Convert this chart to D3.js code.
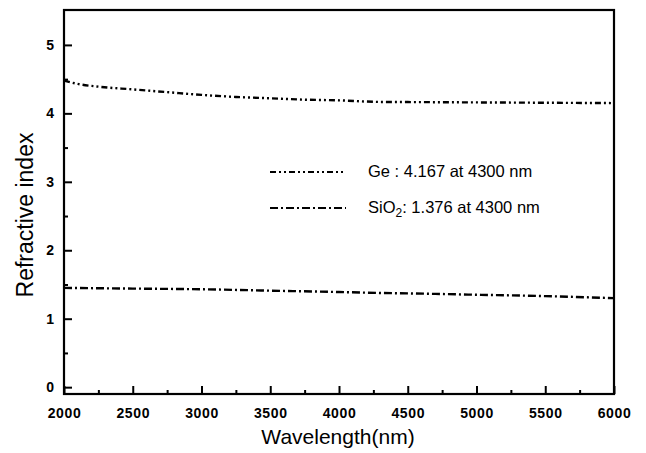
<!DOCTYPE html>
<html><head><meta charset="utf-8">
<script src="https://cdn.jsdelivr.net/npm/d3@7"></script>
<style>body{margin:0;background:#fff}</style>
</head><body>
<svg id="c" width="646" height="453"></svg>
<script>
const geWavelength = [2000, 2100, 2250, 2500, 2750, 3000, 3250, 3500, 3750, 4000, 4300, 4500, 5000, 5500, 6000];
const geIndex      = [4.48, 4.43, 4.39, 4.35, 4.31, 4.27, 4.24, 4.22, 4.20, 4.19, 4.167, 4.165, 4.16, 4.155, 4.15];
const sioWavelength = [2000, 2500, 3000, 3500, 4000, 4300, 4500, 5000, 5500, 6000];
const sioIndex      = [1.45, 1.44, 1.43, 1.41, 1.39, 1.376, 1.37, 1.35, 1.33, 1.30];
const xTicks = [2000, 2500, 3000, 3500, 4000, 4500, 5000, 5500, 6000];
const yTicks = [0, 1, 2, 3, 4, 5];
const legendLabels = ["Ge : 4.167 at 4300 nm", "SiO", "2", ": 1.376 at 4300 nm"];

const svg = d3.select("#c");
const L = 64, R = 614, T = 10, B = 394;
const x = d3.scaleLinear().domain([2000, 6000]).range([L, R]);
const y = d3.scaleLinear().domain([-0.1, 5.51]).range([B, T]);

const xMinor = d3.range(2250, 6000, 500);
const yMinor = d3.range(0.5, 5.5, 1);

const gx = svg.append("g").attr("transform", `translate(0,${B})`)
  .call(d3.axisBottom(x).tickValues(xTicks).tickSizeInner(-8).tickSizeOuter(0).tickPadding(14).tickFormat(d3.format("d")));
const gxm = svg.append("g").attr("transform", `translate(0,${B})`)
  .call(d3.axisBottom(x).tickValues(xMinor).tickSizeInner(-4).tickSizeOuter(0).tickFormat(""));
const gy = svg.append("g").attr("transform", `translate(${L},0)`)
  .call(d3.axisLeft(y).tickValues(yTicks).tickSizeInner(-8).tickSizeOuter(0).tickPadding(10).tickFormat(d3.format("d")));
const gym = svg.append("g").attr("transform", `translate(${L},0)`)
  .call(d3.axisLeft(y).tickValues(yMinor).tickSizeInner(-4).tickSizeOuter(0).tickFormat(""));

[gx, gxm, gy, gym].forEach(g => {
  g.select(".domain").remove();
  g.selectAll(".tick line").attr("stroke", "#000").attr("stroke-width", 2);
  g.selectAll("text").attr("font-family", "Liberation Sans, Arial, sans-serif")
    .attr("font-weight", "bold").attr("font-size", 14).attr("fill", "#000");
});
gx.selectAll("text").attr("letter-spacing", 0.6);

svg.append("rect").attr("x", L).attr("y", T).attr("width", R - L).attr("height", B - T)
  .attr("fill", "none").attr("stroke", "#000").attr("stroke-width", 2.2);

const line = d3.line().x(d => x(d[0])).y(d => y(d[1])).curve(d3.curveMonotoneX);
const geDash = "6,3,2,3,2,3";
const sioDash = "8,3,2,3";

svg.append("path").datum(geWavelength.map((w, i) => [w, geIndex[i]]))
  .attr("d", line).attr("fill", "none").attr("stroke", "#000").attr("stroke-width", 2.4)
  .attr("stroke-dasharray", geDash);
svg.append("path").datum(sioWavelength.map((w, i) => [w, sioIndex[i]]))
  .attr("d", line).attr("fill", "none").attr("stroke", "#000").attr("stroke-width", 2.4)
  .attr("stroke-dasharray", sioDash);

const font = "Liberation Sans, Arial, sans-serif";
svg.append("line").attr("x1", 270).attr("x2", 346).attr("y1", 172).attr("y2", 172)
  .attr("stroke", "#000").attr("stroke-width", 2.2).attr("stroke-dasharray", geDash);
svg.append("line").attr("x1", 270).attr("x2", 346).attr("y1", 208).attr("y2", 208)
  .attr("stroke", "#000").attr("stroke-width", 2.2).attr("stroke-dasharray", sioDash);
svg.append("text").attr("x", 368).attr("y", 177).attr("font-family", font).attr("font-size", 16.5)
  .text(legendLabels[0]);
const t2 = svg.append("text").attr("x", 368).attr("y", 213).attr("font-family", font).attr("font-size", 16.5);
t2.append("tspan").text(legendLabels[1]);
t2.append("tspan").attr("font-size", 12).attr("dy", 4).text(legendLabels[2]);
t2.append("tspan").attr("dy", -4).text(legendLabels[3]);

svg.append("text").attr("x", 338).attr("y", 444).attr("text-anchor", "middle")
  .attr("font-family", font).attr("font-size", 21).text("Wavelength(nm)");
svg.append("text").attr("transform", "translate(33,215) rotate(-90)").attr("text-anchor", "middle")
  .attr("font-family", font).attr("font-size", 23).text("Refractive index");
</script>
</body></html>
